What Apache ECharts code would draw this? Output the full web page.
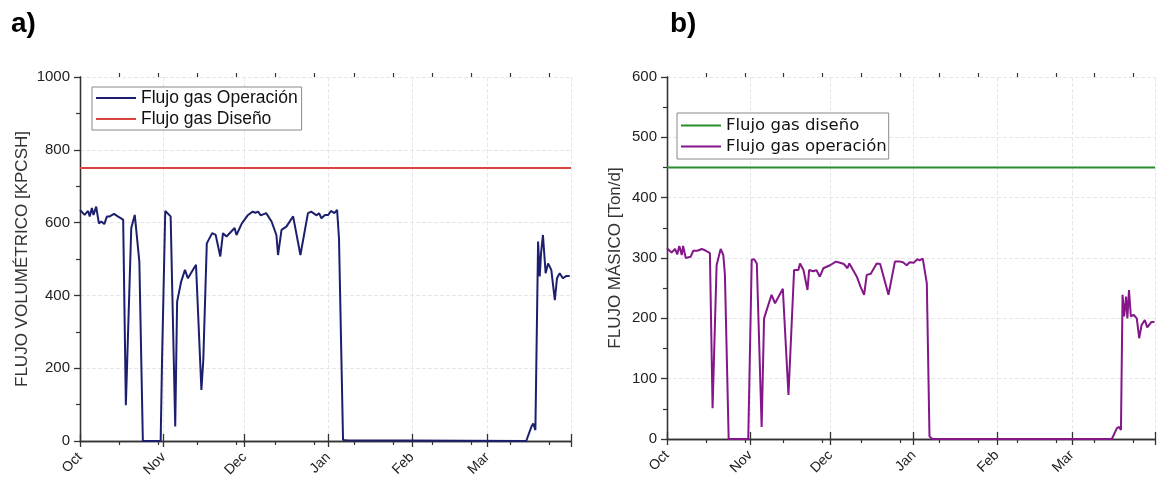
<!DOCTYPE html>
<html>
<head>
<meta charset="utf-8">
<script src="https://cdn.jsdelivr.net/npm/echarts@6/dist/echarts.min.js"></script>
<style>
html,body{margin:0;padding:0;background:#fff;}
#chart{width:1159px;height:484px;}
</style>
</head>
<body>
<div id="chart"></div>
<script>
// days counted from 1 Oct
var monthNames = ['Oct','Nov','Dec','Jan','Feb','Mar'];
var monthDays = [0,31,61,92,123,151];
var dayMax = 182;
var minorDays = [14.5,29,43.5,58,72.5,87,101.5,116,130.5,145,159.5,174];

// a) flujo volumetrico [KPCSH]
var volDays = [0,1.7,3,3.6,4.4,5,6,7,7.9,9,10,11,12.6,14,16,17,19,20.3,21,22,23.3,29.9,30.4,31.6,32.3,33.6,34,35.3,36,37.5,38.9,40,43,45,45.7,47,49,50.3,52,53,54.3,56,57.3,58,60,62.3,64,65,66,67,69,71,72.8,73.4,74.7,76.5,79,79.7,81.7,84.5,85.7,87.7,88.6,89.5,90.8,92,93,94.3,95.3,96,97.5,99,165.4,167.3,168,168.8,169.8,170.4,170.9,171.6,172.6,173.5,174.7,176,176.8,177.8,179,180.2,181.5];
var volOper = [635,621,632,617,640,621,644,598,603,596,617,617,624,617,608,98,585,621,620,493,0,0,218,632,635,617,612,40,383,438,470,447,484,140,222,543,571,566,507,571,562,575,585,566,598,621,630,627,630,620,626,603,566,511,580,589,617,612,511,626,630,620,626,612,621,621,632,626,635,557,3,2,0,39,48,30,548,452,516,566,461,488,470,387,447,461,447,453,453];
var volDesign = 750;

// b) flujo masico [Ton/d]
var masDays = [0,1.7,3,3.8,4.6,5.5,6,7,8.8,9.8,11.3,13,14.5,16,17,18.5,20,21,21.6,23,30.3,31.6,32.5,33.5,34.2,35.3,36.2,37.4,39,40.3,43.2,45.3,47.4,49,49.6,50.9,52.4,53,54.5,55.7,57,58.3,60.8,63,64.5,66,67.3,68,70.8,72.2,73.5,74.5,76,78.2,79.5,82.6,85,87,88,89.4,90.5,92,93.4,94.2,95.4,96,96.9,97.9,99,165.9,167.8,168.6,169.3,169.9,170.5,171.2,171.7,172.3,173,174,175.2,176.1,177,178.2,179.1,180.7,181.8];
var masOper = [316,309,315,306,320,305,320,300,302,312,312,315,312,308,51,288,315,305,272,0,0,297,298,291,290,20,200,217,239,225,249,73,280,280,291,280,247,280,278,280,269,283,288,294,292,290,283,291,269,252,239,272,274,291,290,239,294,294,293,288,293,292,298,296,299,297,258,4,0,0,18,20,15,239,203,236,200,247,203,206,200,167,189,197,185,194,194];
var masDesign = 450;

function zip(xs, ys){
	var out = [];
	for(var i=0;i<xs.length;i++){ out.push([xs[i], ys[i]]); }
	return out;
}
function monthLabel(v){
	var i = monthDays.indexOf(v);
	return i >= 0 ? monthNames[i] : '';
}

var axisColor = '#333';
var gridA = {left:80, top:77, width:491, height:364};
var gridB = {left:667, top:77, width:488, height:362};

function xMain(gi){
	return {
		type:'value', gridIndex:gi, min:0, max:dayMax, position:'bottom',
		axisLine:{show:true, lineStyle:{color:axisColor, width:1.3}},
		axisTick:{show:true, inside:false, length:6, customValues:monthDays.concat([dayMax]), lineStyle:{color:axisColor, width:1.3}},
		axisLabel:{show:true, rotate:45, margin:14, fontSize:14, color:'#222', fontFamily:'Liberation Sans', customValues:monthDays, formatter:monthLabel},
		splitLine:{show:true, lineStyle:{color:'#e6e6ec', type:'dashed', width:1}}
	};
}
function xTop(gi){
	return {
		type:'value', gridIndex:gi, min:0, max:dayMax, position:'top',
		axisLine:{show:true, lineStyle:{color:axisColor, width:1.3}},
		axisTick:{show:true, inside:false, length:7, customValues:monthDays.concat([dayMax]), lineStyle:{color:axisColor, width:1.3}},
		axisLabel:{show:false},
		splitLine:{show:false}
	};
}
function xMinor(gi, pos){
	return {
		type:'value', gridIndex:gi, min:0, max:dayMax, position:pos,
		axisLine:{show:false},
		axisTick:{show:true, inside:false, length:4, customValues:minorDays, lineStyle:{color:axisColor, width:1.2}},
		axisLabel:{show:false},
		splitLine:{show:false}
	};
}
function yMain(gi, max, step, name, gap){
	return {
		type:'value', gridIndex:gi, min:0, max:max, interval:step, position:'left',
		name:name, nameLocation:'middle', nameGap:gap,
		nameTextStyle:{fontSize:17, color:'#333', fontFamily:'Liberation Sans'},
		axisLine:{show:true, lineStyle:{color:axisColor, width:1.3}},
		axisTick:{show:true, inside:false, length:6, lineStyle:{color:axisColor, width:1.3}},
		minorTick:{show:true, splitNumber:2, length:4, lineStyle:{color:axisColor, width:1.2}},
		axisLabel:{margin:10, fontSize:15, color:'#222', fontFamily:'Liberation Sans', formatter:function(v){ return String(v); }},
		splitLine:{show:true, lineStyle:{color:'#e6e6ec', type:'dashed', width:1}}
	};
}
function yRight(gi, max){
	return {
		type:'value', gridIndex:gi, min:0, max:max, position:'right',
		axisLine:{show:true, lineStyle:{color:axisColor, width:1.3}},
		axisTick:{show:false}, axisLabel:{show:false}, splitLine:{show:false}
	};
}
function yBlank(gi, max){
	return {
		type:'value', gridIndex:gi, min:0, max:max, show:false
	};
}

var myChart = echarts.init(document.getElementById('chart'));
var option = {
	backgroundColor:'#fff',
	animation:false,
	title:[
		{text:'a)', left:6, top:5, textStyle:{fontSize:28, fontWeight:'bold', color:'#000', fontFamily:'Liberation Sans'}},
		{text:'b)', left:665, top:5, textStyle:{fontSize:28, fontWeight:'bold', color:'#000', fontFamily:'Liberation Sans'}}
	],
	grid:[
		Object.assign({outerBoundsMode:'none'}, gridA),
		Object.assign({outerBoundsMode:'none'}, gridA),
		Object.assign({outerBoundsMode:'none'}, gridB),
		Object.assign({outerBoundsMode:'none'}, gridB)
	],
	legend:[
		{
			data:['Flujo gas Operación','Flujo gas Diseño'],
			orient:'vertical', left:92, top:87,
			padding:[2,4,2,4], itemGap:3, itemWidth:40, itemHeight:2, icon:'rect',
			borderColor:'#888', borderWidth:1, backgroundColor:'#fff',
			textStyle:{fontSize:17.5, color:'#111', fontFamily:'Liberation Sans'}
		},
		{
			data:['Flujo gas diseño','Flujo gas operación'],
			orient:'vertical', left:677, top:113,
			padding:[4,2,4,4], itemGap:4, itemWidth:40, itemHeight:2, icon:'rect',
			borderColor:'#888', borderWidth:1, backgroundColor:'#fff',
			textStyle:{fontSize:16.5, color:'#111', fontFamily:'DejaVu Sans'}
		}
	],
	xAxis:[ xMain(0), xTop(0), xMinor(1,'bottom'), xMinor(1,'top'), xMain(2), xTop(2), xMinor(3,'bottom'), xMinor(3,'top') ],
	yAxis:[
		yMain(0, 1000, 200, 'FLUJO VOLUMÉTRICO [KPCSH]', 49), yRight(0, 1000), yBlank(1, 1000),
		yMain(2, 600, 100, 'FLUJO MÁSICO [Ton/d]', 43), yRight(2, 600), yBlank(3, 600)
	],
	series:[
		{
			name:'Flujo gas Operación', type:'line', xAxisIndex:0, yAxisIndex:0,
			data:zip(volDays, volOper), symbol:'none', color:'#1b1f6e',
			lineStyle:{width:2, color:'#1b1f6e'}
		},
		{
			name:'Flujo gas Diseño', type:'line', xAxisIndex:0, yAxisIndex:0,
			data:[[0, volDesign],[dayMax, volDesign]], symbol:'none', color:'#d8453f',
			lineStyle:{width:2.2, color:'#d8453f'}
		},
		{
			name:'Flujo gas diseño', type:'line', xAxisIndex:4, yAxisIndex:3,
			data:[[0, masDesign],[dayMax, masDesign]], symbol:'none', color:'#2b8c2b',
			lineStyle:{width:2, color:'#2b8c2b'}
		},
		{
			name:'Flujo gas operación', type:'line', xAxisIndex:4, yAxisIndex:3,
			data:zip(masDays, masOper), symbol:'none', color:'#84168a',
			lineStyle:{width:2, color:'#84168a'}
		}
	]
};
myChart.setOption(option);
</script>
</body>
</html>
